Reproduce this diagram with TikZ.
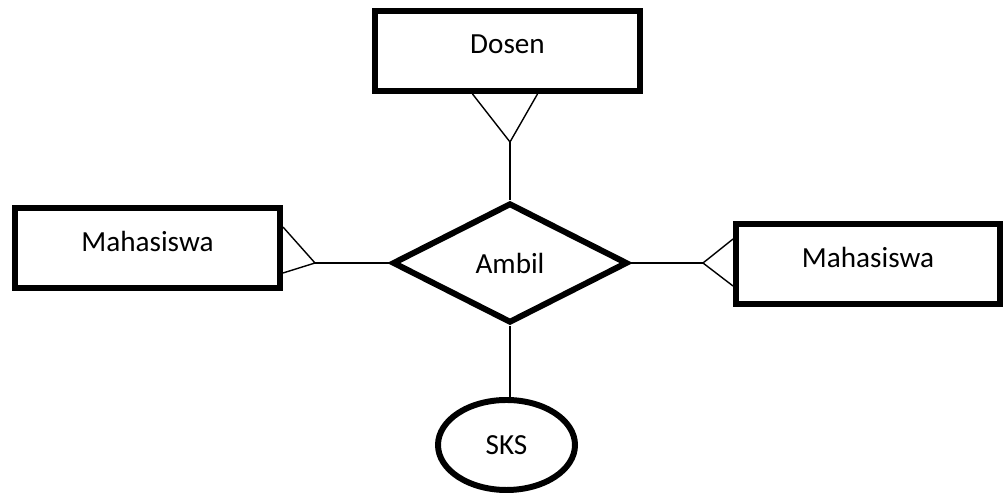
\documentclass[tikz,border=0pt]{standalone}
\usepackage{fontspec}
\setmainfont{Carlito}
\usetikzlibrary{shapes.geometric,calc}

\begin{document}
\begin{tikzpicture}[every node/.style={font=\fontsize{16.6}{20}\selectfont},
  entity/.style={draw,line width=3.4pt,minimum width=5.3cm,minimum height=1.6cm,text depth=8pt},
  relation/.style={draw,diamond,line width=3.4pt,minimum width=4.7cm,minimum height=2.4cm,inner sep=0pt},
  attrib/.style={draw,ellipse,line width=3.4pt,minimum width=2.74cm,minimum height=1.8cm},
  link/.style={line width=0.8pt}]
\useasboundingbox (0,0) rectangle (20.06,9.88);
\node[entity] (dosen) at (10.15,8.86) {Dosen};
\node[entity] (mhsl) at (2.95,4.92) {Mahasiswa};
\node[entity,minimum width=5.28cm] (mhsr) at (17.36,4.60) {Mahasiswa};
\node[relation] (ambil) at (10.2,4.62) {Ambil};
\node[attrib] (sks) at (10.13,0.98) {SKS};
\coordinate (kd) at (10.2,7.04);
\coordinate (kl) at (6.30,4.62);
\coordinate (kr) at (14.06,4.62);
\draw[link] ($(dosen.south)+(-0.7,0)$)--(kd)--($(dosen.south)+(0.6,0)$);
\draw[link] (kd)--(ambil.north);
\draw[link] ($(mhsl.east)+(0,0.42)$)--(kl)--($(mhsl.east)+(0,-0.5)$);
\draw[link] (kl)--(ambil.west);
\draw[link] ($(mhsr.west)+(0,0.5)$)--(kr)--($(mhsr.west)+(0,-0.44)$);
\draw[link] (ambil.east)--(kr);
\draw[link] (ambil.south)--(ambil.south |- sks.north);
\end{tikzpicture}
\end{document}
